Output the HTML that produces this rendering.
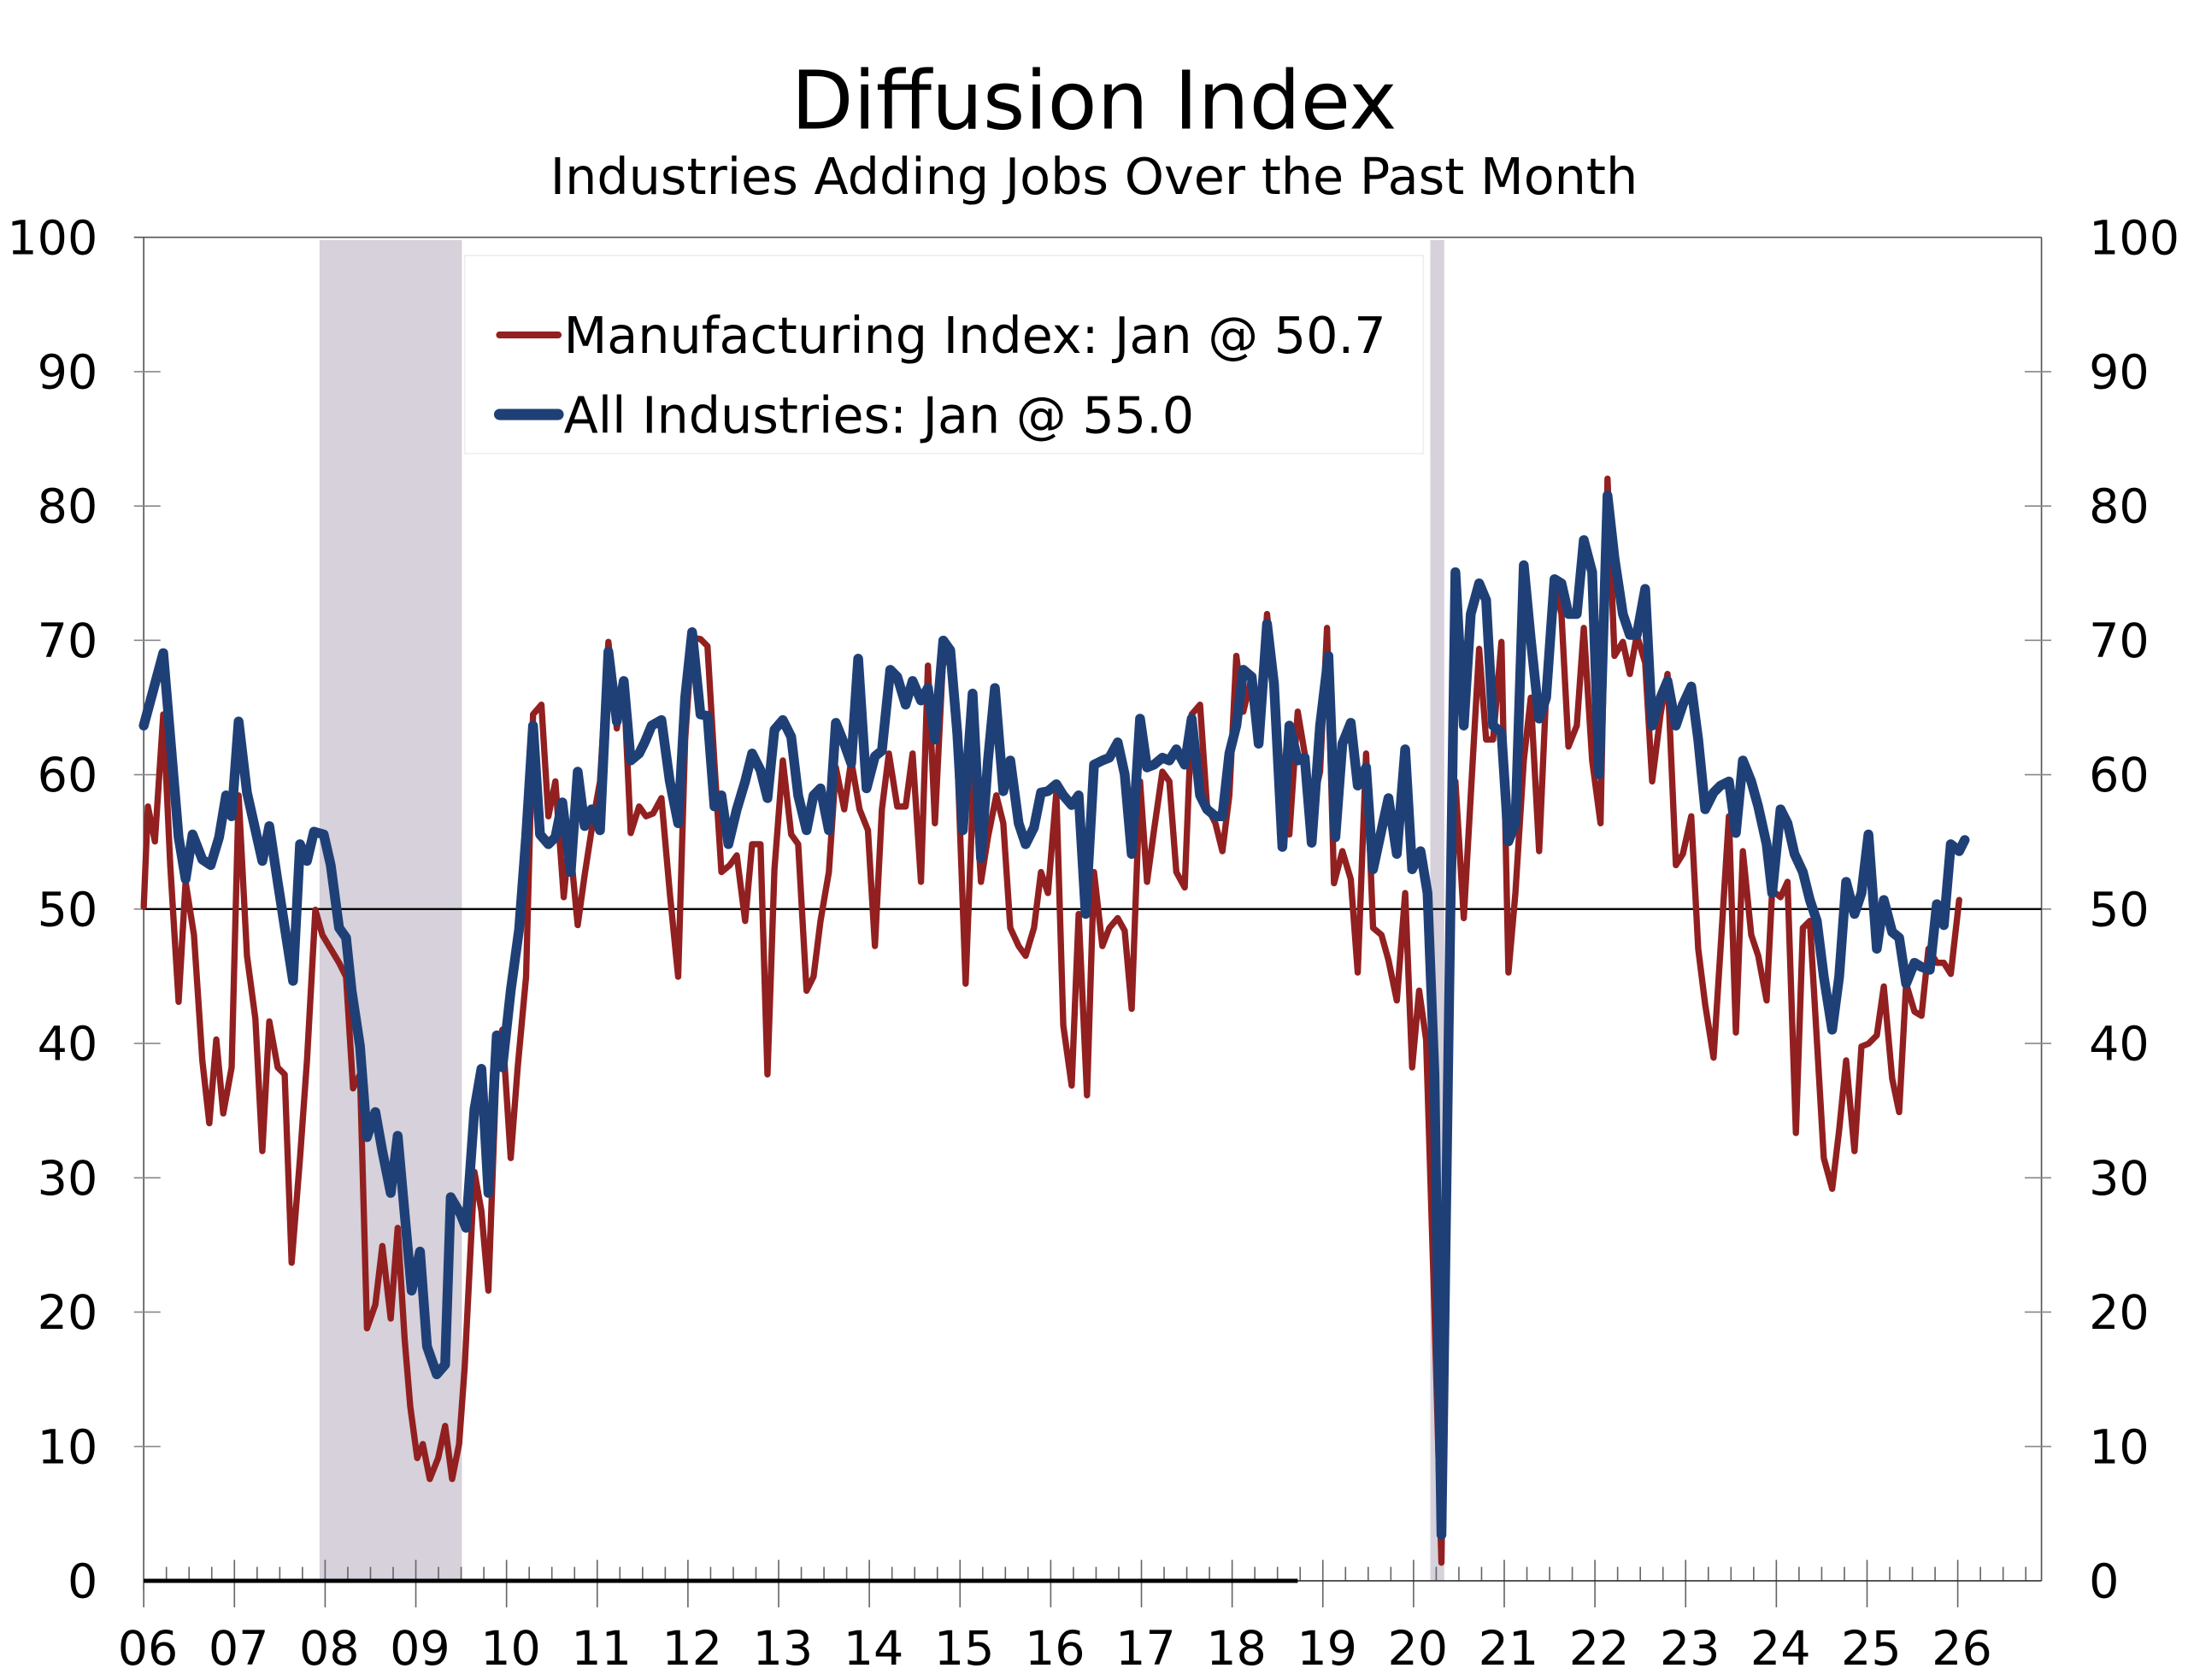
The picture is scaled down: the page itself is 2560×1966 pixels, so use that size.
<!DOCTYPE html>
<html><head><meta charset="utf-8"><style>
html,body{margin:0;padding:0;background:#fff;}
svg{display:block;}
text{font-family:"DejaVu Sans","Liberation Sans",sans-serif;fill:#000;}
</style></head><body>
<svg id="s" width="2560" height="1966" viewBox="0 0 1568 1204" xmlns="http://www.w3.org/2000/svg">
<rect x="0" y="0" width="1568" height="1204" fill="#fff"/>
<text x="784" y="92" font-size="58" text-anchor="middle">Diffusion Index</text>
<text x="784" y="139" font-size="36" text-anchor="middle">Industries Adding Jobs Over the Past Month</text>
<rect x="229" y="172" width="102" height="961" fill="#d6d1da"/>
<rect x="1025" y="172" width="10" height="961" fill="#d6d1da"/>
<line x1="96" y1="170" x2="1463" y2="170" stroke="#555" stroke-width="1"/>
<line x1="103" y1="170" x2="103" y2="1140" stroke="#555" stroke-width="1"/>
<line x1="1463" y1="170" x2="1463" y2="1133" stroke="#555" stroke-width="1"/>
<g id="yt"></g>
<g id="xt"></g>
<line x1="103" y1="651.5" x2="1463" y2="651.5" stroke="#000" stroke-width="1.5"/>
<line x1="103" y1="1133" x2="1463" y2="1133" stroke="#333" stroke-width="1"/>
<line x1="103" y1="1133" x2="930" y2="1133" stroke="#000" stroke-width="3"/>
<polyline id="red" fill="none" stroke="#922020" stroke-width="4.5" stroke-linejoin="round" stroke-linecap="round"/>
<polyline id="blue" fill="none" stroke="#1f4077" stroke-width="7" stroke-linejoin="round" stroke-linecap="round"/>
<rect x="333" y="183" width="687" height="142" fill="#fff" stroke="#eee" stroke-width="1"/>
<line x1="358" y1="240" x2="400" y2="240" stroke="#922020" stroke-width="5" stroke-linecap="round"/>
<line x1="358" y1="297" x2="400" y2="297" stroke="#1f4077" stroke-width="8" stroke-linecap="round"/>
<text x="404" y="253" font-size="36">Manufacturing Index: Jan @ 50.7</text>
<text x="404" y="310" font-size="36">All Industries: Jan @ 55.0</text>
</svg>
<script>
var NS="http://www.w3.org/2000/svg";
function el(p,t,a,txt){var e=document.createElementNS(NS,t);for(var k in a)e.setAttribute(k,a[k]);if(txt!=null)e.textContent=txt;p.appendChild(e);return e;}
var yt=document.getElementById('yt');
for(var v=0;v<=100;v+=10){var y=1133-v*9.63;
 if(v>0&&v<100){el(yt,'line',{x1:96,y1:y,x2:115,y2:y,stroke:'#888','stroke-width':1});el(yt,'line',{x1:1451,y1:y,x2:1470,y2:y,stroke:'#888','stroke-width':1});}
 el(yt,'text',{x:70,y:y+12,'font-size':34,'text-anchor':'end'},String(v));
 el(yt,'text',{x:1497,y:y+12,'font-size':34},String(v));}
var xt=document.getElementById('xt');
for(var i=0;i<=83;i++){var x=103+i*65/4;if(x>1463)break;
 if(i%4==0){el(xt,'line',{x1:x,y1:1118,x2:x,y2:1152,stroke:'#666','stroke-width':1});
  var yr=6+i/4; if(yr<=26) el(xt,'text',{x:x+3,y:1193,'font-size':34,'text-anchor':'middle'},(yr<10?'0':'')+yr);}
 else el(xt,'line',{x1:x,y1:1123,x2:x,y2:1133,stroke:'#666','stroke-width':1});}
var blue=[103,520,117,468,128,600,133,630,138,598,145,616,151,620,157,600,162,570,166,585,171,517,177,568,188,617,193,592,199,632,210,703,215,605,220,617,225,596,232,598,237,620,243,665,248,672,252,710,258,750,263,815,269,797,274,825,280,855,285,814,290,870,295,925,301,897,306,965,313,985,319,978,323,858,330,870,334,880,340,795,345,766,350,855,356,742,360,765,366,710,372,666,377,600,382,520,387,598,393,605,398,600,403,575,409,625,414,553,419,592,424,580,430,595,436,467,442,517,447,488,452,545,458,540,462,532,467,520,474,516,480,560,486,590,491,500,496,453,502,512,507,513,512,578,517,570,522,605,528,580,534,560,539,540,545,552,550,572,555,523,561,516,567,528,572,570,578,595,583,570,588,565,594,595,599,518,605,533,610,547,615,472,621,565,627,542,632,538,638,480,643,485,649,505,654,488,660,502,665,493,670,530,676,459,681,466,686,525,690,595,697,497,703,615,708,545,713,493,719,567,724,545,730,590,735,605,741,593,746,568,751,567,757,562,762,570,768,577,773,570,778,655,784,548,790,545,795,543,801,532,806,555,811,612,817,515,822,550,827,548,833,543,838,545,843,537,849,548,854,515,860,570,865,580,871,585,876,585,881,540,886,520,891,480,897,485,902,533,908,447,913,490,919,607,924,520,930,545,935,543,940,604,946,520,952,470,957,600,962,533,968,518,973,563,979,550,984,623,990,595,995,572,1001,612,1007,537,1012,623,1018,610,1023,640,1028,770,1033,1100,1038,750,1043,410,1049,520,1054,440,1060,418,1065,430,1070,520,1076,525,1081,603,1086,590,1092,405,1097,458,1103,515,1108,500,1114,415,1119,418,1124,440,1130,440,1135,387,1141,410,1146,555,1152,355,1157,400,1163,440,1168,455,1173,455,1179,422,1184,520,1190,500,1195,488,1201,520,1206,505,1212,492,1217,530,1222,580,1228,568,1233,563,1239,560,1244,597,1249,545,1255,560,1260,578,1266,605,1270,640,1276,580,1281,590,1286,612,1292,625,1297,645,1302,660,1307,700,1313,738,1318,700,1323,632,1329,655,1334,640,1339,598,1345,680,1350,645,1356,668,1361,672,1366,705,1372,690,1377,693,1383,695,1388,648,1393,663,1398,605,1404,610,1408,602];
var red=[103,650,106,578,111,603,117,512,122,620,128,718,133,632,139,670,145,760,150,805,155,745,160,798,166,765,171,570,177,685,183,730,188,825,193,732,199,765,204,770,209,905,215,830,220,760,226,652,231,670,237,680,243,690,248,700,253,780,258,770,263,952,269,935,274,893,280,945,285,880,290,960,294,1008,299,1045,303,1035,308,1060,314,1045,319,1022,324,1060,329,1035,333,980,336,920,340,840,345,868,350,925,356,760,360,738,366,830,371,765,377,700,382,512,388,505,393,585,398,560,404,643,408,600,414,663,419,627,425,588,430,560,436,460,442,522,447,490,452,597,458,578,463,585,468,583,474,572,480,640,486,700,491,530,496,457,502,458,507,463,512,547,517,625,523,620,528,613,534,660,539,605,545,605,550,770,555,623,561,545,567,598,572,605,578,710,583,700,588,660,594,625,599,550,605,580,610,545,616,580,622,595,627,678,632,580,637,540,643,578,649,578,654,540,660,632,665,477,670,590,676,468,681,477,686,540,692,705,698,550,703,632,708,600,714,570,719,590,724,665,730,678,735,685,741,665,746,625,751,640,757,568,762,735,768,778,773,655,779,785,784,625,790,678,795,665,801,658,806,667,811,723,817,560,822,632,827,595,833,553,838,560,843,625,849,636,854,512,860,505,865,578,871,590,876,610,881,570,886,470,891,510,897,485,902,533,908,440,913,490,919,567,924,598,930,510,935,540,940,580,946,553,951,450,956,633,962,610,968,630,973,697,979,540,984,665,990,670,995,688,1001,717,1007,640,1012,765,1017,710,1022,745,1028,940,1033,1120,1038,745,1043,560,1049,658,1054,570,1060,465,1065,530,1070,530,1076,460,1081,697,1086,640,1092,545,1097,500,1103,610,1108,497,1114,418,1119,440,1124,535,1130,520,1135,450,1141,545,1147,590,1152,343,1157,470,1163,460,1168,483,1173,455,1179,475,1184,560,1190,512,1195,483,1201,620,1206,612,1212,585,1217,680,1222,720,1228,758,1233,680,1239,585,1244,740,1249,610,1255,670,1260,685,1266,717,1270,638,1276,643,1281,632,1287,812,1292,665,1297,660,1302,745,1307,830,1313,852,1318,810,1323,760,1329,825,1334,750,1339,748,1345,742,1350,707,1356,773,1361,797,1366,705,1372,725,1377,728,1382,680,1388,690,1393,690,1398,698,1404,645];
function pts(a){var s=[];for(var i=0;i<a.length;i+=2)s.push(a[i]+','+a[i+1]);return s.join(' ');}
document.getElementById('red').setAttribute('points',pts(red));
document.getElementById('blue').setAttribute('points',pts(blue));
</script>
</body></html>
